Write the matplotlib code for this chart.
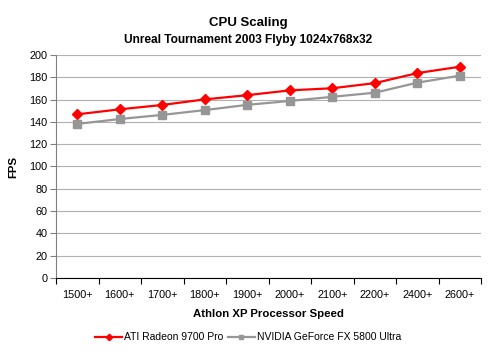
import matplotlib.pyplot as plt
import numpy as np

plt.rcParams['font.family'] = ['Liberation Sans', 'DejaVu Sans']

cpus = ['1500+', '1600+', '1700+', '1800+', '1900+', '2000+', '2100+', '2200+', '2400+', '2600+']
ati = [146.8, 151.3, 155.2, 160.2, 164.0, 168.3, 170.2, 174.8, 183.8, 189.5]
nvidia = [138.2, 142.6, 146.3, 150.6, 155.3, 158.8, 162.5, 166.2, 175.2, 181.5]

fig = plt.figure(figsize=(4.96, 3.55), dpi=100)
ax = fig.add_axes([0.113, 0.217, 0.857, 0.628])

x = np.arange(len(cpus))
ax.plot(x, ati, color='#FF0000', lw=1.6, marker='D', ms=5.5, label='ATI Radeon 9700 Pro')
ax.plot(x, nvidia, color='#969696', lw=1.6, marker='s', ms=5.2, label='NVIDIA GeForce FX 5800 Ultra')

ax.set_xlim(-0.5, len(cpus) - 0.5)
ax.set_ylim(0, 200)
ax.set_yticks(range(0, 201, 20))
ax.set_xticks(x)
ax.set_xticklabels(cpus)
ax.set_xticks(np.arange(-0.5, len(cpus), 1), minor=True)
ax.tick_params(axis='x', which='major', length=0, pad=9, labelsize=7.8)
ax.tick_params(axis='x', which='minor', length=4, color='black', width=0.8)
ax.tick_params(axis='y', length=4, color='#808080', width=0.8, labelsize=7.8, pad=2)

ax.grid(axis='y', color='#B0B0B0', lw=0.8)
ax.set_axisbelow(True)
for s in ['top', 'right']:
    ax.spines[s].set_visible(False)
ax.spines['left'].set_color('#808080')
ax.spines['bottom'].set_color('black')

ax.set_xlabel('Athlon XP Processor Speed', fontsize=8.2, fontweight='bold', labelpad=6)
ax.set_ylabel('FPS', fontsize=8.2, fontweight='bold', labelpad=8)

fig.text(0.5, 0.935, 'CPU Scaling', ha='center', va='center', fontsize=9.5, fontweight='bold')
fig.text(0.5, 0.887, 'Unreal Tournament 2003 Flyby 1024x768x32', ha='center', va='center',
         fontsize=8.6, fontweight='bold')

fig.legend(loc='center', bbox_to_anchor=(0.5, 0.05), ncol=2, frameon=False, fontsize=7.5,
           handlelength=2.6, columnspacing=0.4, handletextpad=0.2, markerscale=0.6)

fig.savefig('out.png', dpi=100)
